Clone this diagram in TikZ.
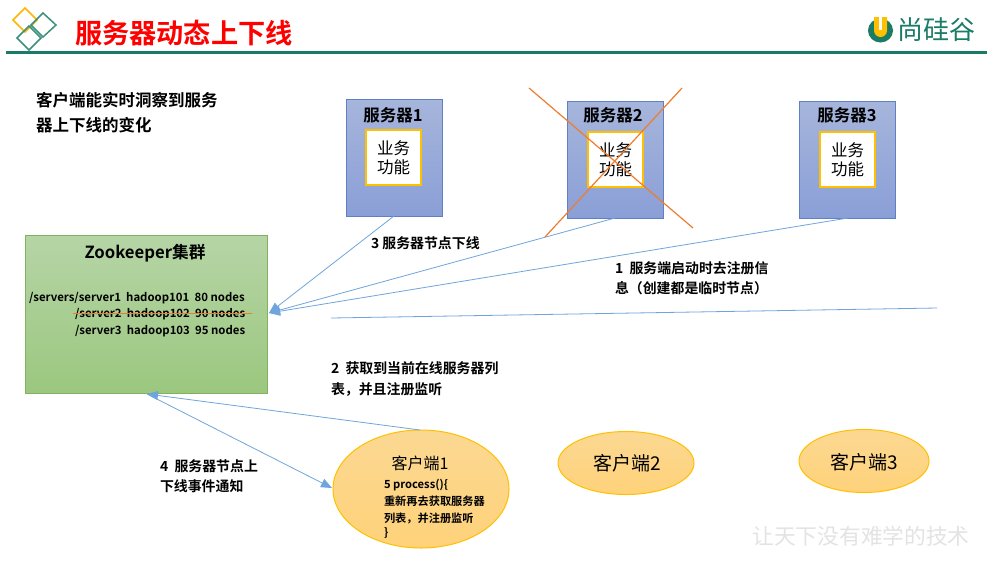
\documentclass[tikz,border=0pt]{standalone}
\usepackage{fontspec}
\setmainfont{Noto Sans CJK SC}
\newfontfamily\bfcjk{Noto Sans CJK SC Bold}
\usetikzlibrary{arrows.meta,shapes.geometric}
\definecolor{teal1}{HTML}{1A7B66}
\definecolor{linkblue}{HTML}{6FA5DC}
\definecolor{xorange}{HTML}{ED7D31}
\definecolor{goldb}{HTML}{FFC000}
\definecolor{srvtop}{HTML}{A6B5DB}
\definecolor{srvbot}{HTML}{8A9FD7}
\definecolor{srvline}{HTML}{5F80C4}
\definecolor{cltop}{HTML}{FBD892}
\definecolor{clbot}{HTML}{FFD27A}
\definecolor{zktop}{HTML}{B6D5A6}
\definecolor{zkbot}{HTML}{9BC77F}
\definecolor{zkline}{HTML}{80B35E}
\newcommand{\fs}[1]{\fontsize{#1}{#1}\selectfont}
\tikzset{
  x=1pt,y=-1pt,
  txt/.style={anchor=west,inner sep=0pt,outer sep=0pt,text=black},
  btxt/.style={txt,font=\bfcjk\fs{13.9}},
  ptxt/.style={txt,font=\bfcjk\fs{11.4}},
  serverbox/.style={draw=srvline,line width=1pt,top color=srvtop,bottom color=srvbot,inner sep=0pt,minimum width=96pt,minimum height=117pt},
  funcbox/.style={draw=goldb,line width=1.2pt,fill=white,inner sep=0pt,minimum width=55pt,minimum height=55pt,align=center,font=\fontsize{16.5}{18.5}\selectfont},
  srvtitle/.style={inner sep=0pt,font=\bfcjk\fs{16.5}},
  client/.style={ellipse,draw=goldb,line width=1pt,top color=cltop,bottom color=clbot,inner sep=0pt},
  link/.style={draw=linkblue,line width=0.8pt},
  linkarrow/.style={link,-{Triangle[length=11pt,width=9pt,fill=linkblue]}},
  cross/.style={draw=xorange,line width=1.2pt},
  strikeline/.style={draw=xorange,line width=1.6pt},
  diam/.style={line width=1.5pt,line join=miter},
}
\begin{document}
\begin{tikzpicture}
\useasboundingbox (0,0) rectangle (1000,566);
\fill[white] (0,0) rectangle (1000,566);
% header
\draw[teal1,line width=3pt] (6,52) -- (987,52);
\draw[diam,draw=goldb!85!orange] (25,8) -- (37,20) -- (25,32) -- (13,20) -- cycle;
\draw[diam,draw=teal1!85!white] (43,13) -- (56,25) -- (43,37) -- (31,25) -- cycle;
\draw[diam,draw=teal1!85!white] (29,26) -- (41,38) -- (29,50) -- (17,38) -- cycle;
\node[txt,text=red,font=\bfcjk\fs{27.2}] (title) at (75,33) {服务器动态上下线};
% logo
\fill[teal1] (880.5,30.5) ellipse[x radius=12.5,y radius=12];
\fill[goldb] (874,17) -- (887,17) -- (887,30.5) arc[start angle=0,end angle=180,radius=6.5] -- cycle;
\fill[white] (879,15) rectangle (882,30);
\fill[white] (868,15) rectangle (893,17);
\node[txt,text=teal1,font=\fs{26}] (logo) at (897,30) {尚硅谷};
% intro
\node[txt,font=\bfcjk\fs{16.5}] (intro1) at (36,100) {客户端能实时洞察到服务};
\node[txt,font=\bfcjk\fs{16.5}] (intro2) at (36,125) {器上下线的变化};
% servers
\node[serverbox] (s1) at (394,157.5) {};
\node[serverbox] (s2) at (615.5,159.5) {};
\node[serverbox] (s3) at (847.5,159.5) {};
\node[srvtitle] (s1t) at (393,115) {服务器1};
\node[srvtitle] (s2t) at (613,115) {服务器2};
\node[srvtitle] (s3t) at (847,115) {服务器3};
\node[funcbox] (f1) at (393.5,157.5) {业务\\功能};
\node[funcbox] (f2) at (615.5,159.5) {业务\\功能};
\node[funcbox] (f3) at (847.5,159.5) {业务\\功能};
% zookeeper
\node[draw=zkline,line width=1pt,top color=zktop,bottom color=zkbot,minimum width=242pt,minimum height=158pt,inner sep=0pt] (zk) at (146.5,314) {};
\node[inner sep=0pt,font=\bfcjk\fs{16.7}] (zkt) at (145,253.5) {Zookeeper集群};
\node[ptxt] (p1) at (29,298) {/servers/server1\ \ hadoop101\ \ 80 nodes};
\node[ptxt] (p2) at (75,314) {/server2\ \ hadoop102\ \ 90 nodes};
\node[ptxt] (p3) at (75,331) {/server3\ \ hadoop103\ \ 95 nodes};
% clients
\node[client,minimum width=176pt,minimum height=118pt] (c1) at (421,489) {};
\node[client,minimum width=136pt,minimum height=63pt] (c2) at (626,463) {};
\node[client,minimum width=130pt,minimum height=63pt] (c3) at (864,461) {};
\node[inner sep=0pt,font=\fs{16}] (c1t) at (420,463.5) {客户端1};
\node[inner sep=0pt,font=\fs{19}] (c2t) at (627,463.5) {客户端2};
\node[inner sep=0pt,font=\fs{19}] (c3t) at (864,462) {客户端3};
\node[ptxt,font=\bfcjk\fs{11.2}] (c1a) at (384,485) {5 process()\{};
\node[ptxt,font=\bfcjk\fs{11.2}] (c1b) at (384,501) {重新再去获取服务器};
\node[ptxt,font=\bfcjk\fs{11.2}] (c1c) at (384,518) {列表，并注册监听};
\node[ptxt,font=\bfcjk\fs{11.2}] (c1d) at (384,533) {\}};
% connectors
\coordinate (zkin) at (269,313);
\coordinate (s1out) at (394,216);
\coordinate (s2out) at (615,218);
\coordinate (s3out) at (848,218);
\draw[linkarrow] (s1out) -- (zkin);
\draw[linkarrow] (s2out) -- (zkin);
\draw[linkarrow] (s3out) -- (zkin);
\coordinate (regA) at (331,318);
\coordinate (regB) at (937,308);
\draw[link] (regA) -- (regB);
\coordinate (zkbotpt) at (147,394);
\coordinate (c1top) at (420,430);
\coordinate (c1left) at (332,488);
\draw[linkarrow] (c1top) -- (zkbotpt);
\draw[linkarrow] (zkbotpt) -- (c1left);
% labels
\node[btxt] (l3) at (371,243) {3 服务器节点下线};
\node[btxt] (l1a) at (615,268) {1\ \ 服务端启动时去注册信};
\node[btxt] (l1b) at (615,288) {息（创建都是临时节点）};
\node[btxt] (l2a) at (331,368) {2\ \ 获取到当前在线服务器列};
\node[btxt] (l2b) at (331,389) {表，并且注册监听};
\node[btxt] (l4a) at (160,466) {4\ \ 服务器节点上};
\node[btxt] (l4b) at (160,486) {下线事件通知};
% cross
\coordinate (xa) at (529,88);
\coordinate (xb) at (693,228);
\coordinate (xc) at (682,88);
\coordinate (xd) at (545,237);
\draw[cross] (xa) -- (xb);
\draw[cross] (xc) -- (xd);
% watermark
\node[inner sep=0pt,text=black!11,font=\fs{21.7}] (wm) at (861,536) {让天下没有难学的技术};
% strike through the server2 entry
\coordinate (strikeA) at (73,313.5);
\coordinate (strikeB) at (252,313.5);
\draw[strikeline] (strikeA) -- (strikeB);
\end{tikzpicture}
\end{document}
